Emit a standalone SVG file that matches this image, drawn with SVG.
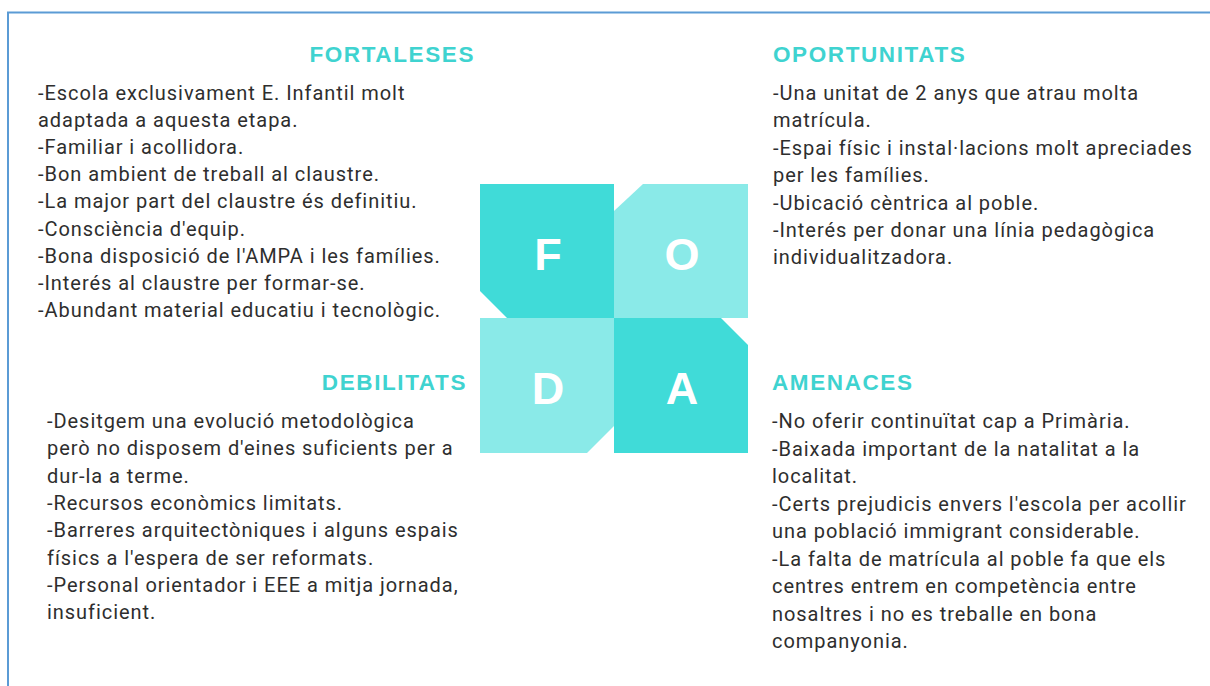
<svg xmlns="http://www.w3.org/2000/svg" width="1210" height="686" viewBox="0 0 1210 686">
<style>
.bg{fill:#ffffff}
.frame{fill:none;stroke:#5b9bd5;stroke-width:2}
.head{font-family:"Liberation Sans",Arial,sans-serif;font-weight:bold;font-size:22.5px;fill:#3fd3d0;letter-spacing:1.6px}
.body{font-family:Roboto,"Liberation Sans",sans-serif;font-size:20px;fill:#2e2e2e;letter-spacing:0.95px}
.dark{fill:#40dbd8}
.light{fill:#8aeae8}
.letter{font-family:"Liberation Sans",Arial,sans-serif;font-weight:bold;font-size:45px;fill:#ffffff;text-anchor:middle}
</style>
<rect class="bg" x="0" y="0" width="1210" height="686"/>
<path class="frame" d="M8,700 L8,12.5 L1220,12.5"/>

<g id="foda">
  <g id="sq-f">
    <polygon class="dark" points="480,184 614,184 614,318 507,318 480,291"/>
    <text class="letter" x="548" y="270">F</text>
  </g>
  <g id="sq-o">
    <polygon class="light" points="643,184 748,184 748,318 614,318 614,211"/>
    <text class="letter" x="682" y="270">O</text>
  </g>
  <g id="sq-d">
    <polygon class="light" points="480,318 614,318 614,426 587,453 480,453"/>
    <text class="letter" x="548" y="404">D</text>
  </g>
  <g id="sq-a">
    <polygon class="dark" points="614,318 721,318 748,345 748,453 614,453"/>
    <text class="letter" x="682" y="404">A</text>
  </g>
</g>

<g id="fortaleses">
  <text class="head" x="475" y="62" text-anchor="end">FORTALESES</text>
  <text class="body" x="38" y="100">-Escola exclusivament E. Infantil molt</text>
  <text class="body" x="38" y="127.1">adaptada a aquesta etapa.</text>
  <text class="body" x="38" y="154.2">-Familiar i acollidora.</text>
  <text class="body" x="38" y="181.3">-Bon ambient de treball al claustre.</text>
  <text class="body" x="38" y="208.4">-La major part del claustre és definitiu.</text>
  <text class="body" x="38" y="235.5">-Consciència d'equip.</text>
  <text class="body" x="38" y="262.6">-Bona disposició de l'AMPA i les famílies.</text>
  <text class="body" x="38" y="289.7">-Interés al claustre per formar-se.</text>
  <text class="body" x="38" y="316.8">-Abundant material educatiu i tecnològic.</text>
</g>

<g id="oportunitats">
  <text class="head" x="773" y="62">OPORTUNITATS</text>
  <text class="body" x="773" y="100">-Una unitat de 2 anys que atrau molta</text>
  <text class="body" x="773" y="127.4">matrícula.</text>
  <text class="body" x="773" y="154.8">-Espai físic i instal·lacions molt apreciades</text>
  <text class="body" x="773" y="182.2">per les famílies.</text>
  <text class="body" x="773" y="209.6">-Ubicació cèntrica al poble.</text>
  <text class="body" x="773" y="237">-Interés per donar una línia pedagògica</text>
  <text class="body" x="773" y="264.4">individualitzadora.</text>
</g>

<g id="debilitats">
  <text class="head" x="467" y="390" text-anchor="end">DEBILITATS</text>
  <text class="body" x="47" y="428">-Desitgem una evolució metodològica</text>
  <text class="body" x="47" y="455.3">però no disposem d'eines suficients per a</text>
  <text class="body" x="47" y="482.6">dur-la a terme.</text>
  <text class="body" x="47" y="509.9">-Recursos econòmics limitats.</text>
  <text class="body" x="47" y="537.2">-Barreres arquitectòniques i alguns espais</text>
  <text class="body" x="47" y="564.5">físics a l'espera de ser reformats.</text>
  <text class="body" x="47" y="591.8">-Personal orientador i EEE a mitja jornada,</text>
  <text class="body" x="47" y="619.1">insuficient.</text>
</g>

<g id="amenaces">
  <text class="head" x="772" y="390">AMENACES</text>
  <text class="body" x="772" y="428">-No oferir continuïtat cap a Primària.</text>
  <text class="body" x="772" y="455.5">-Baixada important de la natalitat a la</text>
  <text class="body" x="772" y="483">localitat.</text>
  <text class="body" x="772" y="510.5">-Certs prejudicis envers l'escola per acollir</text>
  <text class="body" x="772" y="538">una població immigrant considerable.</text>
  <text class="body" x="772" y="565.5">-La falta de matrícula al poble fa que els</text>
  <text class="body" x="772" y="593">centres entrem en competència entre</text>
  <text class="body" x="772" y="620.5">nosaltres i no es treballe en bona</text>
  <text class="body" x="772" y="648">companyonia.</text>
</g>
</svg>
